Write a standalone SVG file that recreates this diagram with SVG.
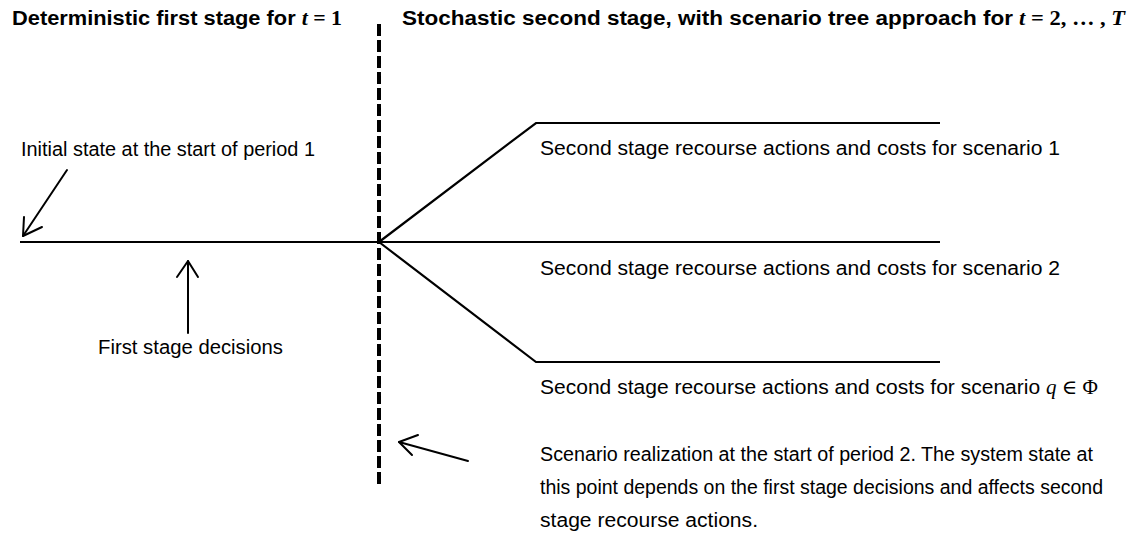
<svg xmlns="http://www.w3.org/2000/svg" width="1132" height="537" viewBox="0 0 1132 537">
  <style>
    .title { font-family: "Liberation Sans", Arial, sans-serif; font-weight: bold; font-size: 20px; fill: #000; }
    .label { font-family: "Liberation Sans", Arial, sans-serif; font-size: 20px; fill: #000; }
    .math { font-family: "Liberation Serif", "DejaVu Serif", serif; }
    .mi { font-family: "Liberation Serif", "DejaVu Serif", serif; font-style: italic; }
    .line { fill: none; stroke: #000; stroke-width: 2.2; }
    .arrow { fill: none; stroke: #000; stroke-width: 2; stroke-linecap: round; stroke-linejoin: round; }
    .divider { fill: none; stroke: #000; stroke-width: 4; stroke-dasharray: 12 4; }
  </style>
  <rect width="1132" height="537" fill="#fff"/>

  <!-- stage headings -->
  <g id="heading-first">
    <text class="title" x="12" y="25" textLength="330" lengthAdjust="spacingAndGlyphs">Deterministic first stage for <tspan class="mi">t</tspan><tspan class="math"> = 1</tspan></text>
  </g>
  <g id="heading-second">
    <text class="title" x="402" y="25" textLength="723" lengthAdjust="spacingAndGlyphs">Stochastic second stage, with scenario tree approach for <tspan class="mi">t</tspan><tspan class="math"> = 2, … , </tspan><tspan class="mi">T</tspan></text>
  </g>

  <!-- stage boundary -->
  <g id="stage-boundary">
    <line class="divider" x1="379" y1="24" x2="379" y2="484"/>
  </g>

  <!-- timeline and scenario branches -->
  <g id="connectors">
    <line class="line" x1="20" y1="242" x2="940" y2="242"/>
    <polyline class="line" points="379,242 536,123 940,123"/>
    <polyline class="line" points="379,242 536,362 940,362"/>

    <!-- pointer to initial state -->
    <line class="arrow" x1="67" y1="170" x2="23" y2="236"/>
    <polyline class="arrow" points="24,217 23,236 42,227"/>

    <!-- pointer to first stage decisions -->
    <line class="arrow" x1="188" y1="333" x2="188" y2="261"/>
    <polyline class="arrow" points="177,277 188,261 198,277"/>

    <!-- pointer to scenario realization -->
    <line class="arrow" x1="468" y1="461" x2="399" y2="442"/>
    <polyline class="arrow" points="418,435 399,442 412,455"/>
  </g>

  <!-- annotations -->
  <g id="initial-state">
    <text class="label" x="21" y="156" textLength="294" lengthAdjust="spacingAndGlyphs">Initial state at the start of period 1</text>
  </g>
  <g id="first-stage-decisions">
    <text class="label" x="98" y="354" textLength="185" lengthAdjust="spacingAndGlyphs">First stage decisions</text>
  </g>
  <g id="scenario-1">
    <text class="label" x="540" y="155" textLength="520" lengthAdjust="spacingAndGlyphs">Second stage recourse actions and costs for scenario 1</text>
  </g>
  <g id="scenario-2">
    <text class="label" x="540" y="275" textLength="520" lengthAdjust="spacingAndGlyphs">Second stage recourse actions and costs for scenario 2</text>
  </g>
  <g id="scenario-q">
    <text class="label" x="540" y="394" textLength="558" lengthAdjust="spacingAndGlyphs">Second stage recourse actions and costs for scenario <tspan class="mi">q</tspan><tspan class="math"> ∈ Φ</tspan></text>
  </g>
  <g id="scenario-realization">
    <text class="label" x="540" y="461" textLength="553" lengthAdjust="spacingAndGlyphs">Scenario realization at the start of period 2. The system state at</text>
    <text class="label" x="540" y="494" textLength="563" lengthAdjust="spacingAndGlyphs">this point depends on the first stage decisions and affects second</text>
    <text class="label" x="540" y="527" textLength="218" lengthAdjust="spacingAndGlyphs">stage recourse actions.</text>
  </g>
</svg>
